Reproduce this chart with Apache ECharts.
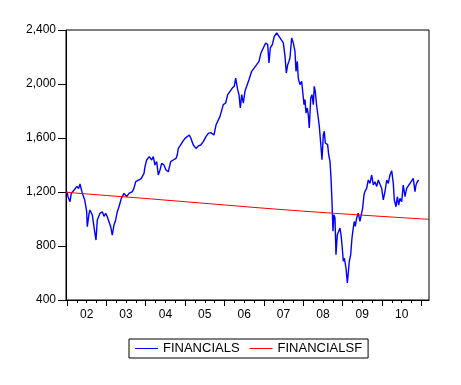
<!DOCTYPE html>
<html>
<head>
<meta charset="utf-8">
<script src="https://cdn.jsdelivr.net/npm/echarts@6/dist/echarts.min.js"></script>
<style>
html,body{margin:0;padding:0;background:#fff;}
#chart{width:461px;height:385px;}
</style>
</head>
<body>
<div id="chart"></div>
<script>
// FINANCIALS (decimal year, index level)
var finDates = [2002.000,2002.025,2002.076,2002.110,2002.180,2002.246,2002.297,2002.330,2002.390,2002.450,2002.500,2002.516,2002.560,2002.584,2002.643,2002.703,2002.737,2002.770,2002.838,2002.897,2002.940,2002.983,2003.024,2003.067,2003.110,2003.150,2003.194,2003.236,2003.278,2003.320,2003.380,2003.448,2003.516,2003.575,2003.660,2003.700,2003.745,2003.830,2003.888,2003.956,
2003.981,2004.024,2004.090,2004.151,2004.192,2004.235,2004.278,2004.319,2004.362,2004.405,2004.463,2004.514,2004.573,2004.634,2004.700,2004.768,2004.800,2004.827,2004.870,2004.938,2004.997,2005.040,2005.106,2005.149,2005.208,2005.276,2005.335,2005.396,2005.462,2005.530,2005.589,2005.650,2005.700,2005.733,2005.784,
2005.886,2005.970,2006.030,2006.081,2006.140,2006.198,2006.249,2006.284,2006.310,2006.335,2006.368,2006.402,2006.437,2006.478,2006.520,2006.564,2006.622,2006.690,2006.757,2006.818,2006.876,2006.927,2006.986,2007.046,2007.097,2007.130,2007.164,2007.214,2007.265,2007.326,2007.367,2007.410,2007.453,2007.494,2007.537,2007.570,2007.606,2007.638,
2007.663,2007.706,2007.748,2007.790,2007.816,2007.849,2007.874,2007.917,2007.960,2007.986,2008.019,2008.044,2008.070,2008.103,2008.128,2008.154,2008.190,2008.222,2008.256,2008.280,2008.306,2008.342,2008.382,2008.408,2008.443,2008.476,2008.510,2008.535,2008.560,2008.596,2008.620,2008.646,2008.680,2008.705,2008.730,2008.756,2008.780,2008.806,2008.832,2008.865,2008.900,2008.933,2008.959,2008.992,2009.017,2009.043,2009.086,2009.120,2009.144,2009.170,2009.205,2009.238,2009.270,2009.297,2009.322,2009.357,2009.398,2009.440,2009.474,2009.510,2009.543,2009.568,
2009.610,2009.652,2009.695,2009.738,2009.779,2009.822,2009.865,2009.906,2009.949,2009.992,2010.033,2010.076,2010.120,2010.160,2010.203,2010.246,2010.287,2010.313,2010.356,2010.390,2010.424,2010.457,2010.500,2010.540,2010.584,2010.627,2010.668,2010.711,2010.754,2010.795,2010.838,2010.864,2010.897,2010.932];
var finValues = [1202,1165,1128,1190,1215,1240,1227,1259,1190,1141,1054,943,1040,1067,1030,906,844,993,1042,1054,1020,1042,1017,980,943,881,956,993,1054,1091,1153,1190,1165,1190,1202,1227,1276,1289,1301,1338,
1388,1437,1462,1437,1462,1400,1425,1326,1363,1412,1400,1363,1350,1425,1437,1449,1474,1523,1541,1573,1597,1586,1622,1597,1548,1523,1541,1548,1573,1610,1634,1640,1647,1622,1696,
1760,1847,1859,1921,1946,1970,1983,2044,2056,1958,1921,1822,1921,1859,1946,1983,2032,2094,2119,2143,2168,2230,2267,2304,2292,2156,2267,2292,2353,2378,2385,2341,2353,2304,2205,2081,2143,2168,
2193,2341,2304,2242,2094,2168,2044,1995,2019,1946,1847,1884,1785,1822,1773,1674,1896,1921,1847,1983,1946,1835,1748,1686,1563,1439,1625,1650,1563,1575,1551,1476,1427,1304,1131,909,1032,1007,736,884,909,933,884,785,687,710,637,526,600,687,736,859,933,983,945,1007,1044,983,1032,1081,1180,1205,
1227,1289,1264,1326,1252,1276,1240,1289,1276,1227,1141,1202,1289,1264,1326,1358,1264,1141,1091,1165,1103,1153,1128,1252,1165,1227,1240,1264,1264,1301,1202,1252,1276,1289];

// FINANCIALSF (trend forecast)
var fcDates = [2001.975,2003,2004,2005,2006,2007,2008,2009,2010,2011,2011.194];
var fcValues = [1198,1174,1152,1128,1104,1080,1058,1038,1019,1001,998];

var yearLabels = ['02','03','04','05','06','07','08','09','10'];
var yearStarts = [2002,2003,2004,2005,2006,2007,2008,2009,2010,2011];

var xMin = 2001.975, xMax = 2011.194;

function zip(a, b) { return a.map(function (v, i) { return [v, b[i]]; }); }

var quarterTicks = [];
for (var y = 2002; y <= 2011; y++) { for (var q = 0; q < 4; q++) { var v = y + q * 0.25; if (v <= xMax) quarterTicks.push(v); } }
var labelPos = yearLabels.map(function (s, i) { return yearStarts[i] + 0.5; });

var FONT = 'Liberation Sans, Arial, sans-serif';
var chart = echarts.init(document.getElementById('chart'), null, { renderer: 'canvas' });
chart.setOption({
  animation: false,
  backgroundColor: '#fff',
  grid: { left: 66, right: 32, top: 30, bottom: 85, show: true, borderColor: '#000', borderWidth: 1, backgroundColor: 'transparent' },
  xAxis: [
    {
      type: 'value', min: xMin, max: xMax, position: 'bottom',
      axisLine: { show: true, lineStyle: { color: '#000', width: 1 } },
      axisTick: { show: true, length: 3, customValues: quarterTicks, lineStyle: { color: '#000' } },
      axisLabel: { show: false },
      splitLine: { show: false }
    },
    {
      type: 'value', min: xMin, max: xMax, position: 'bottom', offset: 0,
      axisLine: { show: false },
      axisTick: { show: true, length: 6, customValues: yearStarts, lineStyle: { color: '#000' } },
      axisLabel: {
        show: true, customValues: labelPos, margin: 9, color: '#000', fontSize: 12, fontFamily: FONT,
        formatter: function (v) { var i = Math.round(v - 0.5) - 2002; return yearLabels[i] || ''; }
      },
      splitLine: { show: false }
    }
  ],
  yAxis: {
    type: 'value', min: 400, max: 2400, interval: 400,
    axisLine: { show: true, lineStyle: { color: '#000', width: 1 } },
    axisTick: { show: true, length: 8, lineStyle: { color: '#000' } },
    axisLabel: {
      color: '#000', fontSize: 12, fontFamily: FONT, margin: 10,
      formatter: function (v) { return v.toLocaleString('en-US'); }
    },
    splitLine: { show: false }
  },
  legend: {
    left: 129, top: 339,
    data: ['FINANCIALS', 'FINANCIALSF'],
    icon: 'rect',
    itemWidth: 23, itemHeight: 1, itemGap: 10,
    borderColor: '#000', borderWidth: 1, padding: [3, 6, 3, 6],
    textStyle: { color: '#000', fontSize: 13, fontFamily: FONT }
  },
  series: [
    {
      name: 'FINANCIALS', type: 'line', xAxisIndex: 0, data: zip(finDates, finValues),
      symbol: 'none', showSymbol: false, lineStyle: { color: '#0000FF', width: 1.4 }, itemStyle: { color: '#0000FF' }
    },
    {
      name: 'FINANCIALSF', type: 'line', xAxisIndex: 0, data: zip(fcDates, fcValues),
      symbol: 'none', showSymbol: false, lineStyle: { color: '#FF0000', width: 1 }, itemStyle: { color: '#FF0000' }
    }
  ]
});
</script>
</body>
</html>
